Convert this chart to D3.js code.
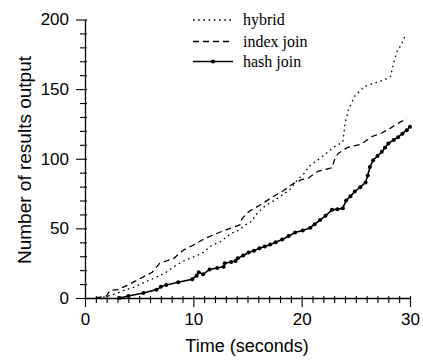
<!DOCTYPE html>
<html>
<head>
<meta charset="utf-8">
<script src="https://cdn.jsdelivr.net/npm/d3@7"></script>
<style>
  body { margin: 0; background: #fff; }
  svg { display: block; }
  .tick text { font-family: "Liberation Sans", Arial, sans-serif; font-size: 17px; fill: #000; }
  .axis-title { font-family: "Liberation Sans", Arial, sans-serif; font-size: 18px; fill: #000; }
  .legend text { font-family: "Liberation Serif", "Times New Roman", serif; font-size: 16px; fill: #000; }
</style>
</head>
<body>
<div id="chart"></div>
<script>
// values: [time in s, results output]
var hybrid = [[1.2,0],[2.0,1],[2.8,3],[3.8,6],[4.6,8],[5.7,12],[6.6,15],[7.5,18.5],[8.2,22.5],[9.2,27],
  [10.2,30],[11.0,33],[11.5,37],[12.5,40.5],[13.5,46.5],[14.3,49],[14.8,52.5],[15.4,55],[15.8,60],
  [16.6,66],[17.8,71.7],[18.9,77.7],[19.4,83],[20.3,90],[20.6,94],[21.8,101],[23.0,108.5],[23.8,112],
  [24.0,125],[24.3,135],[24.9,145],[25.8,152],[26.8,154.5],[27.7,157],[28.2,159],[28.5,169],[28.8,177],
  [29.2,182],[29.6,189]];

var indexJoin = [[1.0,0],[2.0,1.5],[2.3,5.5],[3.0,6],[3.9,9],[5.1,14],[6.2,18.5],[6.9,25],[8.2,28.5],
  [9.1,34.5],[10.0,38],[11.0,42.5],[12.2,46.5],[13.4,50],[14.3,52.5],[14.5,57],[15.1,62],[16.2,67],
  [17.2,72],[18.3,77],[19.2,82],[20.0,85],[20.6,86],[21.5,91],[22.8,93.5],[23.1,101],[23.4,104],
  [24.2,108],[25.5,110.5],[26.5,116],[27.4,118.5],[28.2,122],[28.8,125],[29.7,129]];

var hashJoin = [[3.2,0],[4.0,1.5],[5.4,3.6],[6.6,6],[7.0,8],[7.5,9.4],[8.6,11.3],[9.9,13.5],[10.3,16],
  [10.5,18.5],[10.9,17],[11.5,20.5],[12.2,21.5],[12.8,22.5],[12.9,25],[13.5,25.8],[13.9,26.5],[14.1,28.5],
  [14.6,30.5],[15.1,32.6],[15.6,34],[16.1,35.7],[16.6,37],[17.1,38.5],[17.6,40],[18.2,42],[18.8,44.5],
  [19.4,47],[20.1,48.5],[20.8,50.5],[21.2,53],[21.7,56],[22.2,59],[22.8,63.3],[23.3,63.8],[23.8,64.5],
  [24.1,70],[24.5,73],[24.9,76.5],[25.4,79.5],[25.9,83],[26.1,88],[26.3,94],[26.6,99],[27.0,102],
  [27.4,105],[27.7,108],[28.0,111],[28.5,113.5],[28.9,115.5],[29.3,118],[29.7,120.5],[30.0,123]];

var seriesNames = ["hybrid", "index join", "hash join"];
var xMajor = [0, 10, 20, 30];
var yMajor = [0, 50, 100, 150, 200];

var width = 423, height = 362;

var svg = d3.select("#chart")
  .append("svg")
  .attr("width", width)
  .attr("height", height);

var x = d3.scaleLinear().domain([0, 30]).range([85, 410]);
var y = d3.scaleLinear().domain([0, 200]).range([298, 19.5]);

// x axis, a tick every second, labels on the tens
var xAxis = svg.append("g")
  .attr("transform", "translate(0," + y(0) + ")")
  .call(d3.axisBottom(x)
    .tickValues(d3.range(0, 31, 1))
    .tickSizeOuter(0)
    .tickPadding(9)
    .tickFormat(function(d) { return xMajor.indexOf(d) >= 0 ? d : ""; }));

xAxis.selectAll(".tick line")
  .attr("y1", -2)
  .attr("y2", function(d) { return xMajor.indexOf(d) >= 0 ? 9 : 5; });

// y axis, a tick every 10
var yAxis = svg.append("g")
  .attr("transform", "translate(" + x(0) + ",0)")
  .call(d3.axisLeft(y)
    .tickValues(d3.range(0, 201, 10))
    .tickSizeOuter(0)
    .tickPadding(10)
    .tickFormat(function(d) { return yMajor.indexOf(d) >= 0 ? d : ""; }));

yAxis.selectAll(".tick line")
  .attr("x1", 2)
  .attr("x2", function(d) { return yMajor.indexOf(d) >= 0 ? -9 : -5; });

svg.selectAll(".domain").attr("stroke", "#000").attr("stroke-width", 1.3);
svg.selectAll(".tick line").attr("stroke", "#000").attr("stroke-width", 1.1);

svg.append("text")
  .attr("class", "axis-title")
  .attr("x", 247)
  .attr("y", 352)
  .attr("text-anchor", "middle")
  .text("Time (seconds)");

svg.append("text")
  .attr("class", "axis-title")
  .attr("transform", "translate(31,160) rotate(-90)")
  .attr("text-anchor", "middle")
  .style("font-size", "19px")
  .text("Number of results output");

var line = d3.line()
  .x(function(d) { return x(d[0]); })
  .y(function(d) { return y(d[1]); });

var styles = [
  { data: hybrid, dash: "1.6,3.6", width: 1.3 },
  { data: indexJoin, dash: "6,4", width: 1.3 },
  { data: hashJoin, dash: null, width: 1.6 }
];

styles.forEach(function(s) {
  svg.append("path")
    .datum(s.data)
    .attr("fill", "none")
    .attr("stroke", "#000")
    .attr("stroke-width", s.width)
    .attr("stroke-dasharray", s.dash)
    .attr("d", line);
});

svg.append("g")
  .selectAll("circle")
  .data(hashJoin)
  .enter()
  .append("circle")
  .attr("cx", function(d) { return x(d[0]); })
  .attr("cy", function(d) { return y(d[1]); })
  .attr("r", 2)
  .attr("fill", "#000");

// legend
var legend = svg.append("g").attr("class", "legend");
var rowY = [20, 41.5, 61.5];

styles.forEach(function(s, i) {
  legend.append("line")
    .attr("x1", 193).attr("x2", 233)
    .attr("y1", rowY[i]).attr("y2", rowY[i])
    .attr("stroke", "#000")
    .attr("stroke-width", s.width)
    .attr("stroke-dasharray", s.dash);
  legend.append("text")
    .attr("x", 243)
    .attr("y", rowY[i] + 5)
    .text(seriesNames[i]);
});

legend.append("circle")
  .attr("cx", 213).attr("cy", rowY[2])
  .attr("r", 2)
  .attr("fill", "#000");
</script>
</body>
</html>
